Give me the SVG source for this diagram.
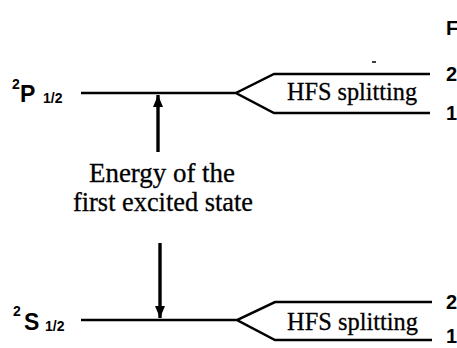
<svg xmlns="http://www.w3.org/2000/svg" width="457" height="348" viewBox="0 0 457 348">
<style>
.lvl{fill:none;stroke:#000;stroke-width:2.5;stroke-linejoin:miter}
.arr{stroke:#000;stroke-width:3.4;fill:none}
.sans{font-family:"Liberation Sans",Arial,sans-serif;font-weight:bold;fill:#000}
.serif{font-family:"Liberation Serif","Times New Roman",serif;fill:#000;stroke:#000;stroke-width:0.3}
.big{font-size:23px}
.small{font-size:14px}
.num{font-size:20px}
.hfs{font-size:26px}
.lab{font-size:27px;text-anchor:middle}
</style>
<defs>
<marker id="ah" markerUnits="userSpaceOnUse" markerWidth="12" markerHeight="10" viewBox="0 0 12 10" refX="12" refY="5" orient="auto">
<path d="M0,0 L12,5 L0,10 Z" fill="#000"/>
</marker>
</defs>
<rect width="457" height="348" fill="#fff"/>
<g id="level-P">
<path class="lvl" d="M81,93 H236 M430,74 H274 L236,93 L274,113 H430"/>
<text class="sans small" x="12" y="89">2</text>
<text class="sans big" x="20" y="102">P</text>
<text class="sans small" x="43" y="103">1/2</text>
<text class="serif hfs" x="287" y="100" textLength="130" lengthAdjust="spacingAndGlyphs">HFS splitting</text>
</g>
<g id="level-S">
<path class="lvl" d="M81,320 H237 M432,302 H275 L237,320 L275,340 H432"/>
<text class="sans small" x="13" y="316">2</text>
<text class="sans big" x="24" y="330">S</text>
<text class="sans small" x="45" y="331">1/2</text>
<text class="serif hfs" x="287" y="330" textLength="131" lengthAdjust="spacingAndGlyphs">HFS splitting</text>
</g>
<g id="F-labels">
<text class="sans num" x="446" y="35">F</text>
<text class="sans num" x="446" y="81">2</text>
<text class="sans num" x="446" y="120">1</text>
<text class="sans num" x="446" y="309">2</text>
<text class="sans num" x="446" y="343">1</text>
</g>
<g id="energy-label">
<text class="serif lab" x="162" y="182" textLength="146" lengthAdjust="spacingAndGlyphs">Energy of the</text>
<text class="serif lab" x="163" y="211" textLength="180" lengthAdjust="spacingAndGlyphs">first excited state</text>
</g>
<g id="connectors">
<line class="arr" x1="158" y1="152" x2="158" y2="95" marker-end="url(#ah)"/>
<line class="arr" x1="160" y1="243" x2="160" y2="318" marker-end="url(#ah)"/>
</g>
<line x1="372" y1="62" x2="376" y2="62" stroke="#000" stroke-width="1.5"/>
</svg>
